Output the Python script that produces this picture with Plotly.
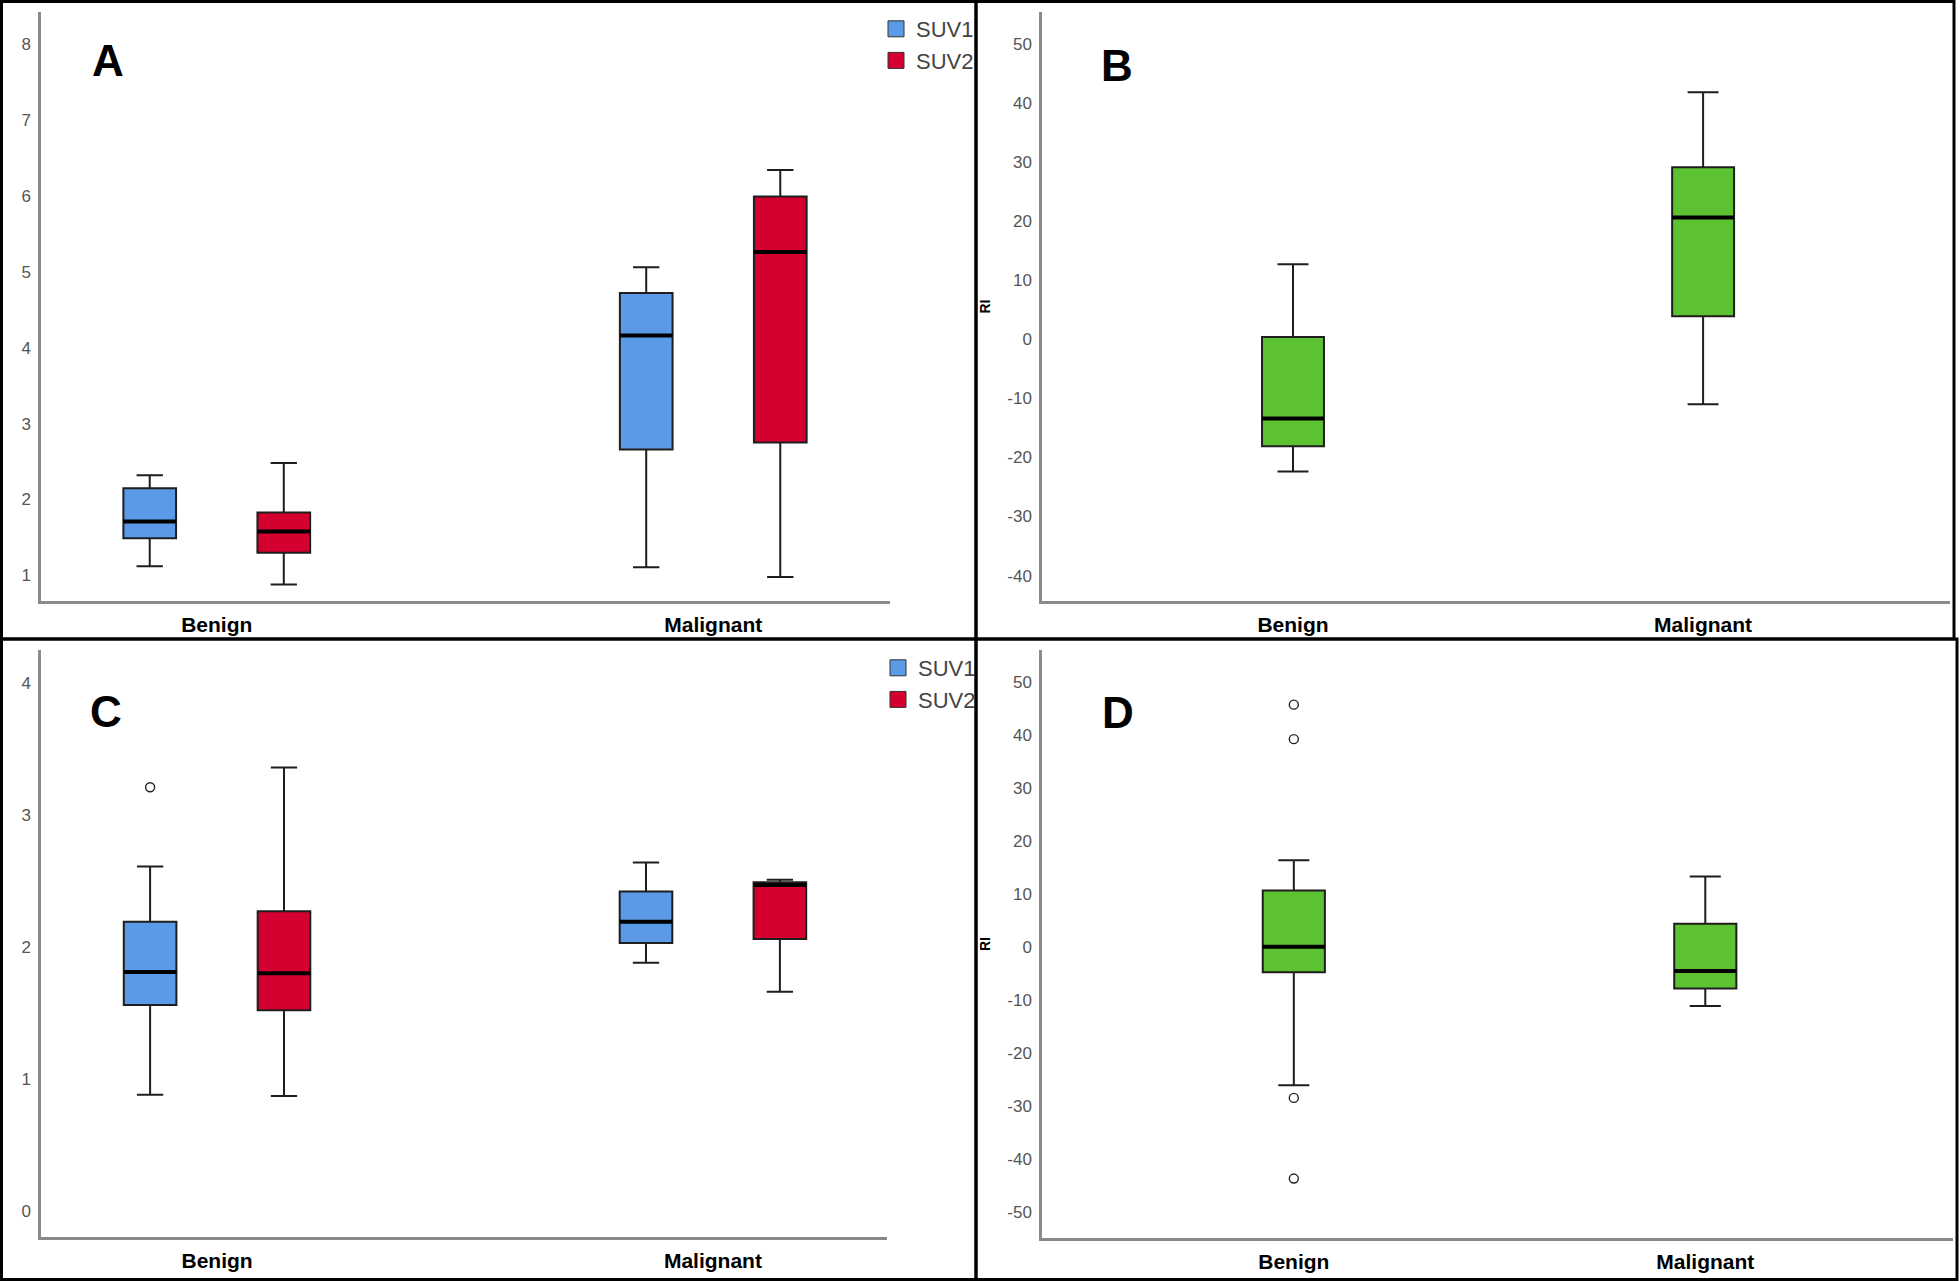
import plotly.graph_objects as go

W, H = 1960, 1281

# ---------------- data ----------------
categories = ["Benign", "Malignant"]

# Panel A (SUV)
a_suv1_lower = [1.12, 1.11]
a_suv1_q1 = [1.49, 2.66]
a_suv1_median = [1.71, 4.16]
a_suv1_q3 = [2.15, 4.72]
a_suv1_upper = [2.32, 5.06]

a_suv2_lower = [0.88, 0.98]
a_suv2_q1 = [1.30, 2.75]
a_suv2_median = [1.58, 5.26]
a_suv2_q3 = [1.83, 5.99]
a_suv2_upper = [2.48, 6.34]

# Panel B (RI)
b_ri_lower = [-22.4, -11.0]
b_ri_q1 = [-18.1, 3.9]
b_ri_median = [-13.4, 20.6]
b_ri_q3 = [0.4, 29.1]
b_ri_upper = [12.7, 41.8]

# Panel C (SUV)
c_suv1_lower = [0.88, 1.88]
c_suv1_q1 = [1.56, 2.03]
c_suv1_median = [1.81, 2.19]
c_suv1_q3 = [2.19, 2.42]
c_suv1_upper = [2.61, 2.64]
c_suv1_outliers = [[3.21], []]

c_suv2_lower = [0.87, 1.66]
c_suv2_q1 = [1.52, 2.06]
c_suv2_median = [1.80, 2.47]
c_suv2_q3 = [2.27, 2.49]
c_suv2_upper = [3.36, 2.51]

# Panel D (RI)
d_ri_lower = [-26.0, -11.1]
d_ri_q1 = [-4.7, -7.8]
d_ri_median = [0.1, -4.5]
d_ri_q3 = [10.7, 4.4]
d_ri_upper = [16.4, 13.3]
d_ri_outliers = [[45.7, 39.2, -28.4, -43.6], []]

# tick labels
ticks_a = [1, 2, 3, 4, 5, 6, 7, 8]
ticks_b = [-40, -30, -20, -10, 0, 10, 20, 30, 40, 50]
ticks_c = [0, 1, 2, 3, 4]
ticks_d = [-50, -40, -30, -20, -10, 0, 10, 20, 30, 40, 50]

panel_letters = ["A", "B", "C", "D"]
series_names = ["SUV1", "SUV2"]
ri_title = "RI"

# ---------------- style ----------------
BLUE = "#5A9AE6"
RED = "#D4002F"
GREEN = "#5DC232"
OUTLINE = "#1e1e1e"
FONT = "Liberation Sans, Arial, sans-serif"

fig = go.Figure()


def add_box(name, lower, q1, med, q3, upper, color, xa, ya, group=None,
            agroup=None, width=None, points=None):
    kw = dict(
        name=name, x=categories, q1=q1, median=med, q3=q3,
        lowerfence=lower, upperfence=upper, fillcolor=color,
        line=dict(color=OUTLINE, width=2), whiskerwidth=0.5,
        xaxis=xa, yaxis=ya, showlegend=False, hoverinfo="skip",
    )
    if group is not None:
        kw.update(offsetgroup=group, alignmentgroup=agroup)
    if width is not None:
        kw.update(width=width)
    if points is not None:
        kw.update(y=points, boxpoints="all", pointpos=0, jitter=0,
                  marker=dict(symbol="circle-open", size=9, color="#222",
                              line=dict(width=1.4, color="#222")))
    else:
        kw.update(boxpoints=False)
    fig.add_trace(go.Box(**kw))
    # thick median line drawn as a collapsed box at the median value
    mk = dict(
        name=name + " median", x=categories, q1=med, median=med, q3=med,
        lowerfence=med, upperfence=med, fillcolor="rgba(0,0,0,0)",
        line=dict(color="#000000", width=4), whiskerwidth=0.5,
        xaxis=xa, yaxis=ya, showlegend=False, hoverinfo="skip", boxpoints=False,
    )
    if group is not None:
        mk.update(offsetgroup=group, alignmentgroup=agroup)
    if width is not None:
        mk.update(width=width)
    fig.add_trace(go.Box(**mk))


def add_legend_entry(name, color, xa, ya, legend):
    fig.add_trace(go.Scatter(
        x=[None], y=[None], mode="markers", name=name, legend=legend,
        xaxis=xa, yaxis=ya, hoverinfo="skip", showlegend=True,
        marker=dict(symbol="square", size=20, color=color,
                    line=dict(color="#333", width=1)),
    ))


# Panel A
add_box(series_names[0], a_suv1_lower, a_suv1_q1, a_suv1_median, a_suv1_q3, a_suv1_upper,
        BLUE, "x", "y", group="A1", agroup="A")
add_box(series_names[1], a_suv2_lower, a_suv2_q1, a_suv2_median, a_suv2_q3, a_suv2_upper,
        RED, "x", "y", group="A2", agroup="A")
add_legend_entry(series_names[0], BLUE, "x", "y", "legend")
add_legend_entry(series_names[1], RED, "x", "y", "legend")
# Panel B
add_box("RI", b_ri_lower, b_ri_q1, b_ri_median, b_ri_q3, b_ri_upper,
        GREEN, "x2", "y2", width=0.151)
# Panel C
add_box(series_names[0], c_suv1_lower, c_suv1_q1, c_suv1_median, c_suv1_q3, c_suv1_upper,
        BLUE, "x3", "y3", group="C1", agroup="C", points=c_suv1_outliers)
add_box(series_names[1], c_suv2_lower, c_suv2_q1, c_suv2_median, c_suv2_q3, c_suv2_upper,
        RED, "x3", "y3", group="C2", agroup="C")
add_legend_entry(series_names[0], BLUE, "x3", "y3", "legend2")
add_legend_entry(series_names[1], RED, "x3", "y3", "legend2")
# Panel D
add_box("RI ", d_ri_lower, d_ri_q1, d_ri_median, d_ri_q3, d_ri_upper,
        GREEN, "x4", "y4", width=0.151, points=d_ri_outliers)


def px_x(v):
    return v / W


def px_y(v):
    return 1 - v / H


def xaxis(dom, rng, anchor):
    return dict(
        domain=[px_x(dom[0]), px_x(dom[1])], range=rng, type="category",
        anchor=anchor, automargin=False,
        showline=True, linecolor="#8a8a8a", linewidth=2.5, showgrid=False,
        zeroline=False, ticks="", ticklabelstandoff=3, fixedrange=True,
        tickfont=dict(family=FONT, size=21, color="#000", weight="bold"),
    )


def yaxis(dom, rng, ticks, anchor, title=None):
    d = dict(
        domain=[px_y(dom[1]), px_y(dom[0])], range=rng, anchor=anchor,
        automargin=False, showline=True,
        linecolor="#8a8a8a", linewidth=2.5, showgrid=False, zeroline=False,
        ticks="", tickvals=ticks, ticktext=[str(t) for t in ticks],
        ticklabelstandoff=4, fixedrange=True,
        tickfont=dict(family=FONT, size=17, color="#555"),
    )
    if title:
        d["title"] = dict(text=title, standoff=14,
                          font=dict(family=FONT, size=14, color="#000", weight="bold"))
    return d


legend_style = dict(xanchor="left", yanchor="top", bgcolor="rgba(0,0,0,0)",
                    tracegroupgap=0, itemwidth=30, itemsizing="trace",
                    font=dict(family=FONT, size=22, color="#444"))

fig.update_layout(
    template="none",
    width=W, height=H, margin=dict(l=0, r=0, t=0, b=0, pad=0),
    paper_bgcolor="white", plot_bgcolor="white",
    boxmode="group", boxgap=0.46, boxgroupgap=0.607,
    xaxis=xaxis((41, 890), [-0.354, 1.356], "y"),
    yaxis=yaxis((12, 601), [0.664, 8.42], ticks_a, "x"),
    xaxis2=xaxis((1042, 1950), [-0.612, 1.602], "y2"),
    yaxis2=yaxis((12, 601), [-44.3, 55.4], ticks_b, "x2", ri_title),
    xaxis3=xaxis((41, 887), [-0.355, 1.351], "y3"),
    yaxis3=yaxis((650, 1237), [-0.198, 4.25], ticks_c, "x3"),
    xaxis4=xaxis((1042, 1953), [-0.612, 1.602], "y4"),
    yaxis4=yaxis((650, 1238), [-54.8, 56.0], ticks_d, "x4", ri_title),
    legend=dict(x=px_x(876), y=px_y(8), **legend_style),
    legend2=dict(x=px_x(878), y=px_y(647), **legend_style),
    showlegend=True,
)

# panel frames
frames = [(1.5, 1.5, 976, 639), (976, 1.5, 1954, 639),
          (1.5, 639, 976, 1279.5), (976, 639, 1957, 1279.5)]
for x0, y0, x1, y1 in frames:
    fig.add_shape(type="rect", xref="paper", yref="paper",
                  x0=px_x(x0), x1=px_x(x1), y0=px_y(y1), y1=px_y(y0),
                  line=dict(color="#000", width=3), fillcolor="rgba(0,0,0,0)",
                  layer="above")

# panel letters
letter_pos = [(108, 60), (1117, 65), (106, 712), (1118, 713)]
for letter, (lx, ly) in zip(panel_letters, letter_pos):
    fig.add_annotation(text=letter, xref="paper", yref="paper",
                       x=px_x(lx), y=px_y(ly), xanchor="center", yanchor="middle",
                       showarrow=False,
                       font=dict(family=FONT, size=44, color="#000", weight="bold"))

fig.write_html(
    "out.html",
    config={"displayModeBar": False},
    post_script="document.body.style.margin='0';document.body.style.padding='0';"
                "document.body.style.overflow='hidden';",
)
